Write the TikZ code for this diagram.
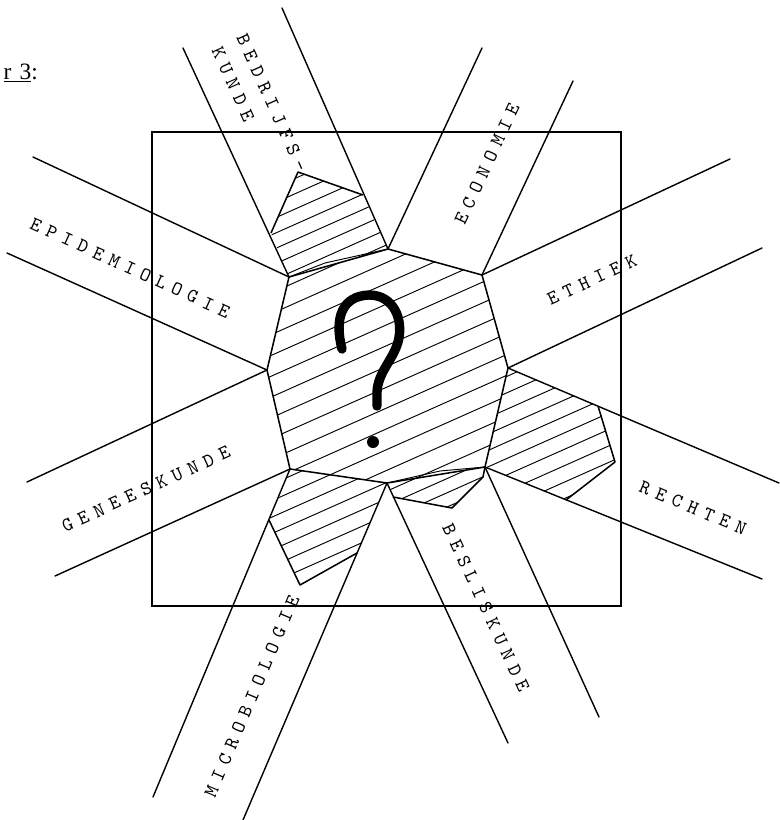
\documentclass[tikz,border=0pt]{standalone}
\usepackage{fontspec}
\newfontfamily\capfont{Liberation Serif}
% typewriter face with the wide letter pitch of the original
\newfontfamily\typew{lmmono10-regular}[Extension=.otf, LetterSpace=35]

\begin{document}
\begin{tikzpicture}[
  x=0.3mm, y=-0.3mm,
  band/.style={line width=1.2pt, line cap=round},
  rim/.style={line width=1.3pt, line join=round},
  hatch/.style={line width=0.8pt},
  lbl/.style={font=\typew\fontsize{16.8}{20}\selectfont, inner sep=0pt, anchor=center},
  qmark/.style={line width=8pt, line cap=round}
]
\useasboundingbox (0,0) rectangle (780,820);

% ===== CORNERS OF THE CENTRE =====
\coordinate (o1) at (289,277);
\coordinate (o2) at (388,249);
\coordinate (o3) at (482,275);
\coordinate (o4) at (508,368);
\coordinate (o5) at (485,467);
\coordinate (o6) at (387,483);
\coordinate (o7) at (290,469);
\coordinate (o8) at (267,370);

% ===== FAR ENDS OF THE BANDS =====
\coordinate (epiA) at (33,157);  \coordinate (epiB) at (7,253);
\coordinate (bedA) at (183,48);  \coordinate (bedB) at (282,8);
\coordinate (ecoA) at (482,48);  \coordinate (ecoB) at (573,81);
\coordinate (ethA) at (730,159); \coordinate (ethB) at (762,248);
\coordinate (recA) at (779,483); \coordinate (recB) at (762,579);
\coordinate (besA) at (599,717); \coordinate (besB) at (508,743);
\coordinate (micA) at (243,820); \coordinate (micB) at (153,797);
\coordinate (genA) at (55,576);  \coordinate (genB) at (27,482);

% ===== SIDE POCKETS =====
\coordinate (p1) at (298,172); \coordinate (p2) at (363,195); \coordinate (p3) at (271,233);
\coordinate (r1) at (598,406); \coordinate (r2) at (615,462); \coordinate (r3) at (566,500);
\coordinate (m1) at (357,553); \coordinate (m2) at (300,585); \coordinate (m3) at (269,520);
\coordinate (s1) at (483,477); \coordinate (s2) at (452,508); \coordinate (s3) at (393,497);
\coordinate (l1) at (325,263); \coordinate (l2) at (440,471);

% ===== HATCHING =====
\begin{scope}
  \clip (o1) -- (o2) -- (o3) -- (o4) -- (o5) -- (o6) -- (o7) -- (o8) -- cycle;
  \foreach \p in {378,397,...,625} \draw[hatch, rotate=24] (-50,\p) -- (600,\p);
\end{scope}
\begin{scope}
  \clip (p1) -- (p2) -- (o2) -- (o1) -- (p3) -- cycle;
  \foreach \p in {283,297,...,386} \draw[hatch, rotate=24] (-50,\p) -- (600,\p);
\end{scope}
\begin{scope}
  \clip (o4) -- (r1) -- (r2) -- (r3) -- (o5) -- cycle;
  \foreach \p in {550,565,...,687} \draw[hatch, rotate=24] (-50,\p) -- (600,\p);
\end{scope}
\begin{scope}
  \clip (o7) -- (o6) -- (m1) -- (m2) -- (m3) -- cycle;
  \foreach \p in {553,568,...,657} \draw[hatch, rotate=24] (-50,\p) -- (600,\p);
\end{scope}
\begin{scope}
  \clip (o6) -- (o5) -- (s1) -- (s2) -- (s3) -- cycle;
  \foreach \p in {606,619,...,648} \draw[hatch, rotate=24] (-50,\p) -- (600,\p);
\end{scope}

% ===== FRAME =====
\draw[band] (152,132) rectangle (621,606);

% ===== BANDS =====
\foreach \a/\b in {o1/epiA, o8/epiB, o1/bedA, o2/bedB, o2/ecoA, o3/ecoB,
                   o3/ethA, o4/ethB, o4/recA, o5/recB, o5/besA, o6/besB,
                   o6/micA, o7/micB, o7/genA, o8/genB}{
  \draw[band] (\a) -- (\b);
}

% ===== OUTLINES =====
\draw[rim] (o1) -- (o2) -- (o3) -- (o4) -- (o5) -- (o6) -- (o7) -- (o8) -- cycle;
\draw[rim] (p3) -- (p1) -- (p2);
\draw[rim] (r1) -- (r2) -- (r3);
\draw[rim] (m1) -- (m2) -- (m3);
\draw[rim] (o5) -- (s1) -- (s2) -- (s3);
\draw[hatch] (o1) -- (l1) -- (o2);
\draw[hatch] (o6) -- (l2) -- (o5);

% ===== QUESTION MARK =====
\draw[qmark] (342,349) .. controls (334,318) and (342,296) .. (369,295)
  .. controls (394,295) and (404,320) .. (398,342)
  .. controls (393,360) and (378,372) .. (377,392) -- (377,406);
\fill (373,442) circle (6);

% ===== LABELS =====
\node[lbl, rotate=-24.5] (epi) at (130,268) {EPIDEMIOLOGIE};
\node[lbl, rotate=-65.7] (bed) at (272,103) {BEDRIJFS-};
\node[lbl, rotate=-65.7] (kun) at (233,84) {KUNDE};
\node[lbl, rotate=65] (eco) at (487,164) {ECONOMIE};
\node[lbl, rotate=25] (eth) at (592,280) {ETHIEK};
\node[lbl, rotate=-22.5] (rec) at (693,508) {RECHTEN};
\node[lbl, rotate=-65] (bes) at (486,608) {BESLISKUNDE};
\node[lbl, rotate=67] (mic) at (252,696) {MICROBIOLOGIE};
\node[lbl, rotate=24.5] (gen) at (146,489) {GENEESKUNDE};

\node[anchor=base east, inner sep=0pt, font=\capfont\fontsize{20}{24}\selectfont]
  (fig) at (38,79) {\underline{r\hspace{0.35em}3}:};

\end{tikzpicture}
\end{document}
